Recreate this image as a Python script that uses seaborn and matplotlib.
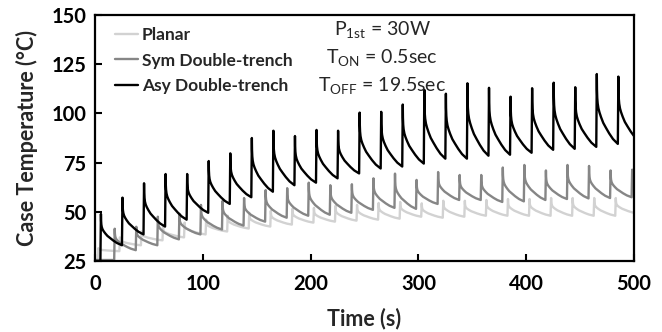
import numpy as np
import pandas as pd
import matplotlib
matplotlib.use("Agg")
import matplotlib.pyplot as plt
import seaborn as sns

# ---- data -------------------------------------------------------------
series_names = ["Planar", "Sym Double-trench", "Asy Double-trench"]
series_colors = ["#d2d2d2", "#868686", "#000000"]

pulse_period = 20.0      # s
t_on = 0.5               # s
t_stop = 500.0           # s
first_pulse = [2.6, 17.8, 5.0]       # s, per series
start_temp = [25.0, 25.5, 25.0]      # degC before the first pulse

# peak temperature reached at the end of every power pulse
planar_peak = [31.5, 37.0, 40.0, 42.5, 44.5, 46.0, 48.0, 49.5, 50.5, 51.5,
               52.0, 53.0, 53.5, 54.5, 55.0, 54.3, 55.6, 55.6, 56.0, 56.5,
               56.5, 57.0, 57.0, 57.0, 57.0]
sym_peak = [41.4, 42.4, 47.5, 49.0, 53.5, 55.5, 57.0, 61.0, 62.0, 64.8,
            63.5, 64.0, 67.0, 69.4, 66.2, 70.2, 68.7, 68.7, 72.5, 73.8,
            71.0, 73.8, 73.3, 71.0, 71.4]
asy_peak = [48.9, 57.2, 64.5, 69.2, 69.2, 75.8, 79.7, 87.5, 91.2, 88.5,
            91.6, 91.2, 100.4, 100.8, 104.5, 112.0, 110.0, 115.3, 113.0, 108.5,
            112.8, 115.6, 113.3, 120.0, 118.7]

# temperature at the end of every cooling interval (last one: at t_stop)
planar_end = [30.0, 33.0, 35.5, 37.0, 38.5, 40.0, 41.5, 42.5, 43.5, 44.5,
              45.0, 45.5, 46.0, 46.5, 47.5, 47.0, 47.5, 48.0, 48.0, 48.0,
              48.0, 48.0, 48.0, 48.0, 49.5]
sym_end = [30.5, 33.0, 36.0, 38.5, 41.0, 43.0, 45.0, 47.0, 48.0, 48.5,
           49.5, 51.0, 52.0, 51.5, 54.0, 56.0, 56.0, 55.0, 55.3, 56.0,
           56.5, 56.8, 57.0, 57.4, 68.0]
asy_end = [33.0, 38.5, 42.5, 46.0, 49.5, 54.0, 57.4, 60.2, 63.5, 64.8,
           67.0, 69.5, 72.0, 73.0, 74.5, 77.0, 77.0, 78.5, 79.0, 80.0,
           81.5, 82.0, 83.0, 84.5, 88.5]

# cooling shape after a pulse: time after the peak (s) and share of the rise left
cool_dt = [0.0, 0.15, 0.4, 0.8, 1.5, 2.5, 4.0, 6.0, 8.5, 11.5, 15.0, 19.5]
cool_frac = [1.0, 0.78, 0.66, 0.58, 0.51, 0.45, 0.38, 0.30, 0.23, 0.15, 0.07, 0.0]

peaks = [planar_peak, sym_peak, asy_peak]
ends = [planar_end, sym_end, asy_end]

# ---- build the traces ---------------------------------------------------
rows = []
cdt = np.array(cool_dt)
cfr = np.array(cool_frac)
for name, t0, T0, pk, en in zip(series_names, first_pulse, start_temp, peaks, ends):
    rows.append((0.0, T0, name))
    prev = T0
    for k, (p, e) in enumerate(zip(pk, en)):
        tp = t0 + k * pulse_period
        t_peak = tp + t_on
        seg_end = min(tp + pulse_period, t_stop)
        rows.append((tp, prev, name))
        rows.append((t_peak, p, name))
        dt_end = seg_end - t_peak
        f_end = np.interp(dt_end, cdt, cfr)
        dts = np.append(cdt[(cdt > 0) & (cdt < dt_end)], dt_end)
        g = (np.interp(dts, cdt, cfr) - f_end) / (1.0 - f_end)
        for d, gg in zip(dts, g):
            rows.append((t_peak + d, e + (p - e) * gg, name))
        prev = e

df = pd.DataFrame(rows, columns=["time", "temp", "series"])

# ---- style --------------------------------------------------------------
sns.set_style("ticks")
plt.rcParams["font.family"] = ["Lato", "DejaVu Sans"]
plt.rcParams["mathtext.fontset"] = "custom"
plt.rcParams["mathtext.rm"] = "Lato"
plt.rcParams["mathtext.it"] = "Lato:italic"
plt.rcParams["mathtext.bf"] = "Lato:bold"
plt.rcParams["mathtext.default"] = "regular"

fig = plt.figure(figsize=(6.62, 3.32), dpi=100)
ax = fig.add_axes([95 / 662, 1 - 261 / 332, 539 / 662, 246 / 332])

sns.lineplot(data=df, x="time", y="temp", hue="series",
             hue_order=series_names, palette=series_colors,
             estimator=None, sort=False, lw=1.7, ax=ax)

ax.set_xlim(0, 500)
ax.set_ylim(25, 150)
ax.set_xticks(np.arange(0, 501, 100))
ax.set_yticks(np.arange(25, 151, 25))

for s in ax.spines.values():
    s.set_visible(True)
    s.set_linewidth(1.6)
    s.set_color("black")

ax.tick_params(axis="both", direction="in", length=5, width=1.5,
               labelsize=14.5, colors="black")
ax.tick_params(axis="x", pad=9)
ax.tick_params(axis="y", pad=6)
for lab in ax.get_xticklabels() + ax.get_yticklabels():
    lab.set_fontweight("bold")

ax.set_xlabel("Time (s)", fontsize=15.5, fontweight="bold", labelpad=10)
ax.set_ylabel("Case Temperature (\u00b0C)", fontsize=15.5, fontweight="bold",
              labelpad=10)

leg = ax.legend(loc="upper left", bbox_to_anchor=(20 / 539, 1 - 12 / 246),
                frameon=False, borderpad=0, borderaxespad=0,
                handlelength=1.35, handletextpad=0.2, labelspacing=0.55,
                prop={"weight": "bold", "size": 12.5})
for h in leg.get_lines():
    h.set_linewidth(1.7)

cx = (382 - 95) / 539
ax.text(cx, (261 - 30) / 246, r"P$_{1st}$ = 30W", transform=ax.transAxes,
        ha="center", va="center", fontsize=14)
ax.text(cx, (261 - 58) / 246, r"T$_{ON}$ = 0.5sec", transform=ax.transAxes,
        ha="center", va="center", fontsize=14)
ax.text(cx, (261 - 85) / 246, r"T$_{OFF}$ = 19.5sec", transform=ax.transAxes,
        ha="center", va="center", fontsize=14)

fig.savefig("out.png", dpi=100)
